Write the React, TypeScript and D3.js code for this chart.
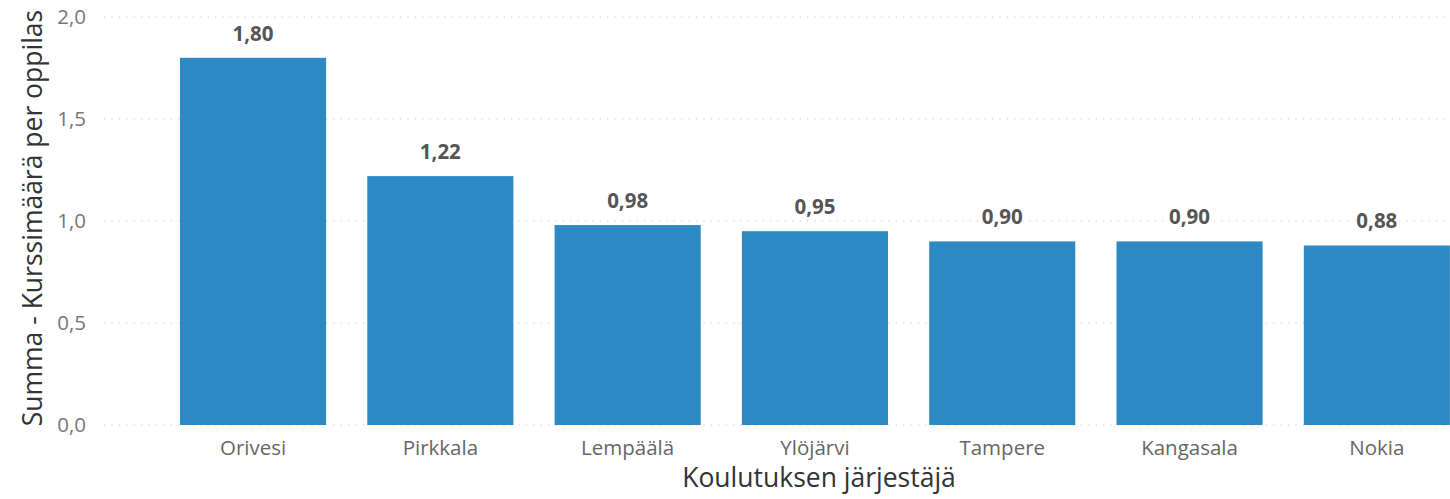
import React from "react";
import * as d3 from "d3";

const categories = ["Orivesi", "Pirkkala", "Lempäälä", "Ylöjärvi", "Tampere", "Kangasala", "Nokia"];
const values = [1.8, 1.22, 0.98, 0.95, 0.9, 0.9, 0.88];
const yTicks = [0, 0.5, 1.0, 1.5, 2.0];

const W = 1450;
const H = 499;
const font = "'Open Sans', 'Noto Sans', sans-serif";

const fmt = (v: number, digits: number) => v.toFixed(digits).replace(".", ",");

export default function App() {
  const x = d3
    .scaleBand<string>()
    .domain(categories)
    .range([159.4, 1470.5])
    .paddingInner(0.22)
    .paddingOuter(0.11);

  const y = d3.scaleLinear().domain([0, 2]).range([425, 17]);

  return (
    <svg
      width={W}
      height={H}
      style={{ position: "absolute", left: 0, top: 0, background: "#fff" }}
      fontFamily={font}
    >
      {/* gridlines */}
      {yTicks.map((t) => (
        <line
          key={"g" + t}
          x1={104}
          x2={W}
          y1={y(t)}
          y2={y(t)}
          stroke="#c8c8c8"
          strokeWidth={1.2}
          strokeDasharray="1.2,6.2"
        />
      ))}
      {/* y tick labels */}
      {yTicks.map((t) => (
        <text
          key={"t" + t}
          x={86}
          y={y(t)}
          dy="0.36em"
          textAnchor="end"
          fontSize={20.5}
          fill="#777"
        >
          {fmt(t, 1)}
        </text>
      ))}
      {/* bars */}
      {categories.map((c, i) => (
        <rect
          key={c}
          x={x(c)}
          y={y(values[i])}
          width={x.bandwidth()}
          height={y(0) - y(values[i])}
          fill="#2D89C3"
        />
      ))}
      {/* data labels */}
      {categories.map((c, i) => (
        <text
          key={"l" + c}
          x={(x(c) ?? 0) + x.bandwidth() / 2}
          y={y(values[i]) - 17}
          textAnchor="middle"
          fontSize={20.5}
          fontWeight="bold"
          fill="#555"
        >
          {fmt(values[i], 2)}
        </text>
      ))}
      {/* x tick labels */}
      {categories.map((c) => (
        <text
          key={"x" + c}
          x={(x(c) ?? 0) + x.bandwidth() / 2}
          y={455}
          textAnchor="middle"
          fontSize={20.5}
          fill="#666"
        >
          {c}
        </text>
      ))}
      {/* axis titles */}
      <text x={819} y={487} textAnchor="middle" fontSize={26.5} fill="#333">
        Koulutuksen järjestäjä
      </text>
      <text
        transform={`translate(42,218) rotate(-90)`}
        textAnchor="middle"
        fontSize={26.5}
        fill="#333"
      >
        Summa - Kurssimäärä per oppilas
      </text>
    </svg>
  );
}
